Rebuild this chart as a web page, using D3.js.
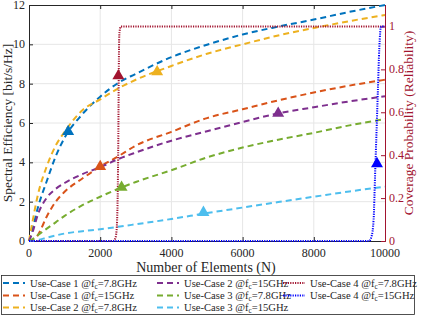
<!DOCTYPE html>
<html>
<head>
<meta charset="utf-8">
<script src="https://cdn.jsdelivr.net/npm/d3@7"></script>
<style>
body{margin:0;background:#fff;}
text{font-family:"Liberation Serif","Times New Roman",serif;}
</style>
</head>
<body>
<div id="graph"></div>
<script>
// number of elements (x grid shared by the spectral efficiency curves)
var elems = [0,100,250,500,750,1000,1500,2000,2500,3000,4000,5000,6000,7000,8000,9000,10000];

// spectral efficiency [bit/s/Hz]
var uc1_78 = [0,0.6,1.7,3.05,4.3,5.25,6.45,7.34,8.03,8.5,9.35,9.98,10.5,10.9,11.26,11.65,12.0];
var uc1_15 = [0,0.02,0.3,1.25,2.0,2.5,3.18,3.78,4.3,4.85,5.55,6.25,6.7,7.15,7.55,7.9,8.2];
var uc2_78 = [0,1.0,2.35,3.8,4.85,5.55,6.65,7.2,7.75,8.2,8.9,9.52,10.0,10.45,10.83,11.18,11.49];
var uc2_15 = [0,0.45,1.35,2.2,2.65,2.95,3.4,3.75,4.16,4.5,5.1,5.58,6.05,6.49,6.8,7.1,7.36];
var uc3_78 = [0,0.1,0.3,0.63,0.95,1.28,1.82,2.25,2.65,3.0,3.6,4.25,4.75,5.15,5.5,5.88,6.2];
var uc3_15 = [0,0,0.05,0.17,0.28,0.38,0.5,0.6,0.72,0.85,1.12,1.42,1.7,1.98,2.25,2.52,2.76];

// coverage probability (right axis)
var uc4_78_n = [0,2350,2420,2460,2490,2510,2525,2540,2580,10000];
var uc4_78_p = [0,0,0.01,0.05,0.2,0.5,0.85,0.97,1,1];
var uc4_15_n = [0,9550,9620,9680,9720,9760,9800,9840,9890,10000];
var uc4_15_p = [0,0,0.02,0.1,0.3,0.5,0.7,0.9,1,1];

// triangle markers [N, value]
var mk_uc1_78 = [1100,5.56];
var mk_uc1_15 = [2000,3.78];
var mk_uc2_78 = [3600,8.6];
var mk_uc2_15 = [7000,6.49];
var mk_uc3_78 = [2600,2.73];
var mk_uc3_15 = [4900,1.45];
var mk_uc4_78 = [2510,0.77];
var mk_uc4_15 = [9775,0.36];

var xTicks = [0,2000,4000,6000,8000,10000];
var yTicks = [0,2,4,6,8,10,12];
var rTicks = [0,0.2,0.4,0.6,0.8,1];

var legendLabels = [
  ["Use-Case 1 @f","=7.8GHz"],["Use-Case 1 @f","=15GHz"],["Use-Case 2 @f","=7.8GHz"],
  ["Use-Case 2 @f","=15GHz"],["Use-Case 3 @f","=7.8GHz"],["Use-Case 3 @f","=15GHz"],
  ["Use-Case 4 @f","=7.8GHz"],["Use-Case 4 @f","=15GHz"]
];

function draw_chart(){
  var W = 424, H = 318;
  var left = 29, right = 385, top = 5, bottom = 241;
  var red = "#a2142f", axc = "#262626";

  var svg = d3.select("#graph").append("svg")
    .attr("width", W).attr("height", H);

  var x = d3.scaleLinear().domain([0,10000]).range([left,right]);
  var y = d3.scaleLinear().domain([0,12]).range([bottom,top]);
  var yr = d3.scaleLinear().domain([0,1.1]).range([bottom,top]);

  // grid
  svg.append("g").selectAll("line").data(xTicks.slice(1,-1)).enter().append("line")
    .attr("x1", function(d){ return x(d); }).attr("x2", function(d){ return x(d); })
    .attr("y1", top).attr("y2", bottom)
    .attr("stroke", "#e6e6e6").attr("stroke-width", 1);
  svg.append("g").selectAll("line").data(yTicks.slice(1,-1)).enter().append("line")
    .attr("x1", left).attr("x2", right)
    .attr("y1", function(d){ return y(d); }).attr("y2", function(d){ return y(d); })
    .attr("stroke", "#e6e6e6").attr("stroke-width", 1);

  // axes (ticks pointing inward, like matlab)
  svg.append("g").attr("transform","translate(0,"+bottom+")")
    .call(d3.axisTop(x).tickValues(xTicks).tickSize(4).tickFormat(""));
  svg.append("g").attr("transform","translate(0,"+top+")")
    .call(d3.axisBottom(x).tickValues(xTicks).tickSize(4).tickFormat(""));
  svg.append("g").attr("transform","translate("+left+",0)")
    .call(d3.axisRight(y).tickValues(yTicks).tickSize(4).tickFormat(""));
  var gr = svg.append("g").attr("transform","translate("+right+",0)")
    .call(d3.axisLeft(yr).tickValues(rTicks).tickSize(4).tickFormat(""));
  svg.selectAll(".domain").attr("stroke", axc);
  svg.selectAll(".tick line").attr("stroke", axc);
  gr.selectAll(".domain").attr("stroke", red);
  gr.selectAll(".tick line").attr("stroke", red);

  // tick labels
  svg.append("g").selectAll("text").data(xTicks).enter().append("text")
    .attr("x", function(d){ return x(d); }).attr("y", 257)
    .attr("text-anchor","middle").attr("font-size",12).attr("fill",axc)
    .text(function(d){ return d; });
  svg.append("g").selectAll("text").data(yTicks).enter().append("text")
    .attr("x", 25).attr("y", function(d){ return y(d)+4; })
    .attr("text-anchor","end").attr("font-size",12).attr("fill",axc)
    .text(function(d){ return d; });
  svg.append("g").selectAll("text").data(rTicks).enter().append("text")
    .attr("x", 389).attr("y", function(d){ return yr(d)+3.5; })
    .attr("text-anchor","start").attr("font-size",12).attr("fill",red)
    .text(function(d){ return d; });

  // axis titles
  svg.append("text").attr("x", 206).attr("y", 271.5)
    .attr("text-anchor","middle").attr("font-size",14).attr("fill",axc)
    .text("Number of Elements (N)");
  svg.append("text").attr("transform","translate(12,"+((top+bottom)/2)+") rotate(-90)")
    .attr("text-anchor","middle").attr("font-size",13.5).attr("fill",axc)
    .text("Spectral Efficiency [bit/s/Hz]");
  svg.append("text").attr("transform","translate(413,"+((top+bottom)/2)+") rotate(-90)")
    .attr("text-anchor","middle").attr("font-size",13.5).attr("fill",red)
    .text("Coverage Probability (Reliability)");

  var series = [
    {vals:uc1_78, color:"#0072bd", mk:mk_uc1_78},
    {vals:uc1_15, color:"#d95319", mk:mk_uc1_15},
    {vals:uc2_78, color:"#edb120", mk:mk_uc2_78},
    {vals:uc2_15, color:"#7e2f8e", mk:mk_uc2_15},
    {vals:uc3_78, color:"#77ac30", mk:mk_uc3_78},
    {vals:uc3_15, color:"#4dbeee", mk:mk_uc3_15}
  ];
  var line = d3.line()
    .x(function(d){ return x(d[0]); })
    .y(function(d){ return y(d[1]); })
    .curve(d3.curveMonotoneX);
  var rline = d3.line()
    .x(function(d){ return x(d[0]); })
    .y(function(d){ return yr(d[1]); })
    .curve(d3.curveMonotoneX);

  var tri = d3.symbol().type(d3.symbolTriangle).size(62);

  series.forEach(function(s){
    var pts = elems.map(function(n,i){ return [n, s.vals[i]]; });
    svg.append("path").datum(pts)
      .attr("d", line).attr("fill","none")
      .attr("stroke", s.color).attr("stroke-width",2)
      .attr("stroke-dasharray","6,4");
  });

  var rseries = [
    {n:uc4_78_n, p:uc4_78_p, color:red, mk:mk_uc4_78},
    {n:uc4_15_n, p:uc4_15_p, color:"#0000ff", mk:mk_uc4_15}
  ];
  rseries.forEach(function(s){
    var pts = s.n.map(function(n,i){ return [n, s.p[i]]; });
    svg.append("path").datum(pts)
      .attr("d", rline).attr("fill","none")
      .attr("stroke", s.color).attr("stroke-width",2)
      .attr("stroke-dasharray","1.2,1.2");
  });

  // markers
  series.forEach(function(s){
    svg.append("path").attr("d", tri)
      .attr("transform","translate("+x(s.mk[0])+","+y(s.mk[1])+")")
      .attr("fill", s.color);
  });
  rseries.forEach(function(s){
    svg.append("path").attr("d", tri)
      .attr("transform","translate("+x(s.mk[0])+","+yr(s.mk[1])+")")
      .attr("fill", s.color);
  });

  // legend
  var colors = ["#0072bd","#d95319","#edb120","#7e2f8e","#77ac30","#4dbeee",red,"#0000ff"];
  var lg = svg.append("g");
  lg.append("rect").attr("x",1.5).attr("y",275.5).attr("width",413).attr("height",39)
    .attr("fill","#fff").attr("stroke","#262626").attr("stroke-width",0.8);
  var colX = [3, 157, 283];
  var rowY = [283, 295.5, 307.5];
  legendLabels.forEach(function(lab,i){
    var c = Math.floor(i/3), r = i%3;
    var lx = colX[c], ly = rowY[r];
    lg.append("line").attr("x1",lx).attr("x2",lx+22)
      .attr("y1",ly).attr("y2",ly)
      .attr("stroke",colors[i]).attr("stroke-width",2)
      .attr("stroke-dasharray", i<6 ? "6,4" : "1.2,1.2");
    var t = lg.append("text").attr("x",lx+27).attr("y",ly+3.5)
      .attr("font-size",10.6).attr("fill","#262626");
    t.append("tspan").text(lab[0]);
    t.append("tspan").attr("font-size",7.2).attr("dy",2).text("c");
    t.append("tspan").attr("dy",-2).text(lab[1]);
  });
}

draw_chart();
</script>
</body>
</html>
